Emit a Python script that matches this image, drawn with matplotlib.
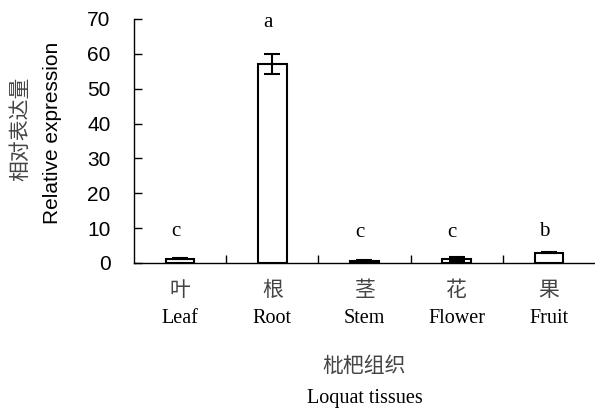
import matplotlib
matplotlib.use("Agg")
import matplotlib.pyplot as plt
from matplotlib.ticker import FixedLocator, MultipleLocator

# relative expression in loquat tissues
tissues_cn = ["叶", "根", "茎", "花", "果"]
tissues_en = ["Leaf", "Root", "Stem", "Flower", "Fruit"]
expression = [1.2, 57.0, 0.6, 1.2, 3.0]
errors = [0.15, 2.9, 0.15, 0.55, 0.1]
letters = ["c", "a", "c", "c", "b"]
letter_y = [9.0, 69.0, 8.7, 8.7, 9.0]

cn_font = ["Noto Sans CJK SC", "DejaVu Sans"]
serif_font = ["Liberation Serif", "DejaVu Serif"]
sans_font = ["Liberation Sans", "DejaVu Sans"]

fig = plt.figure(figsize=(5.95, 4.12), dpi=100)
ax = fig.add_axes([0.2252, 0.3617, 0.7748, 0.5922])

x = range(len(expression))
ax.bar(x, expression, width=0.31, color="white", edgecolor="black",
       linewidth=1.5, zorder=2)
ax.errorbar(x, expression, yerr=errors, fmt="none", ecolor="black",
            elinewidth=1.5, capsize=5.5, capthick=1.5, zorder=3)

ax.set_xlim(-0.5, 4.5)
ax.set_ylim(0, 70)
ax.spines["top"].set_visible(False)
ax.spines["right"].set_visible(False)
for s in ("left", "bottom"):
    ax.spines[s].set_linewidth(1.0)

ax.yaxis.set_major_locator(MultipleLocator(10))
ax.tick_params(axis="y", direction="in", length=6, width=1.0, pad=17,
               labelsize=15)
for lab in ax.get_yticklabels():
    lab.set_family(sans_font)

# tick marks between categories, labels drawn separately
ax.xaxis.set_major_locator(FixedLocator([0.5, 1.5, 2.5, 3.5]))
ax.tick_params(axis="x", direction="in", length=6, width=1.0,
               labelbottom=False)

for i in x:
    ax.text(i - 0.05, letter_y[i], letters[i], ha="center", va="center",
            fontsize=15, family=serif_font, clip_on=False)
    ax.text(i, -7.7, tissues_cn[i], ha="center", va="center",
            fontsize=15, family=cn_font, color="#444444")
    ax.text(i, -15.8, tissues_en[i], ha="center", va="center",
            fontsize=14.5, family=serif_font)

xc = 2.0
ax.text(xc, -29.5, "枇杷组织", ha="center", va="center", fontsize=15,
        family=cn_font, color="#444444")
ax.text(xc, -39.0, "Loquat tissues", ha="center", va="center",
        fontsize=14.5, family=serif_font)

fig.text(20 / 595, 1 - 129 / 412, "相对表达量", rotation=90, ha="center",
         va="center", fontsize=15, family=cn_font, color="#444444")
fig.text(53 / 595, 1 - 133 / 412, "Relative expression", rotation=90,
         ha="center", va="center", fontsize=15, family=sans_font)

fig.savefig("out.png", dpi=100)
